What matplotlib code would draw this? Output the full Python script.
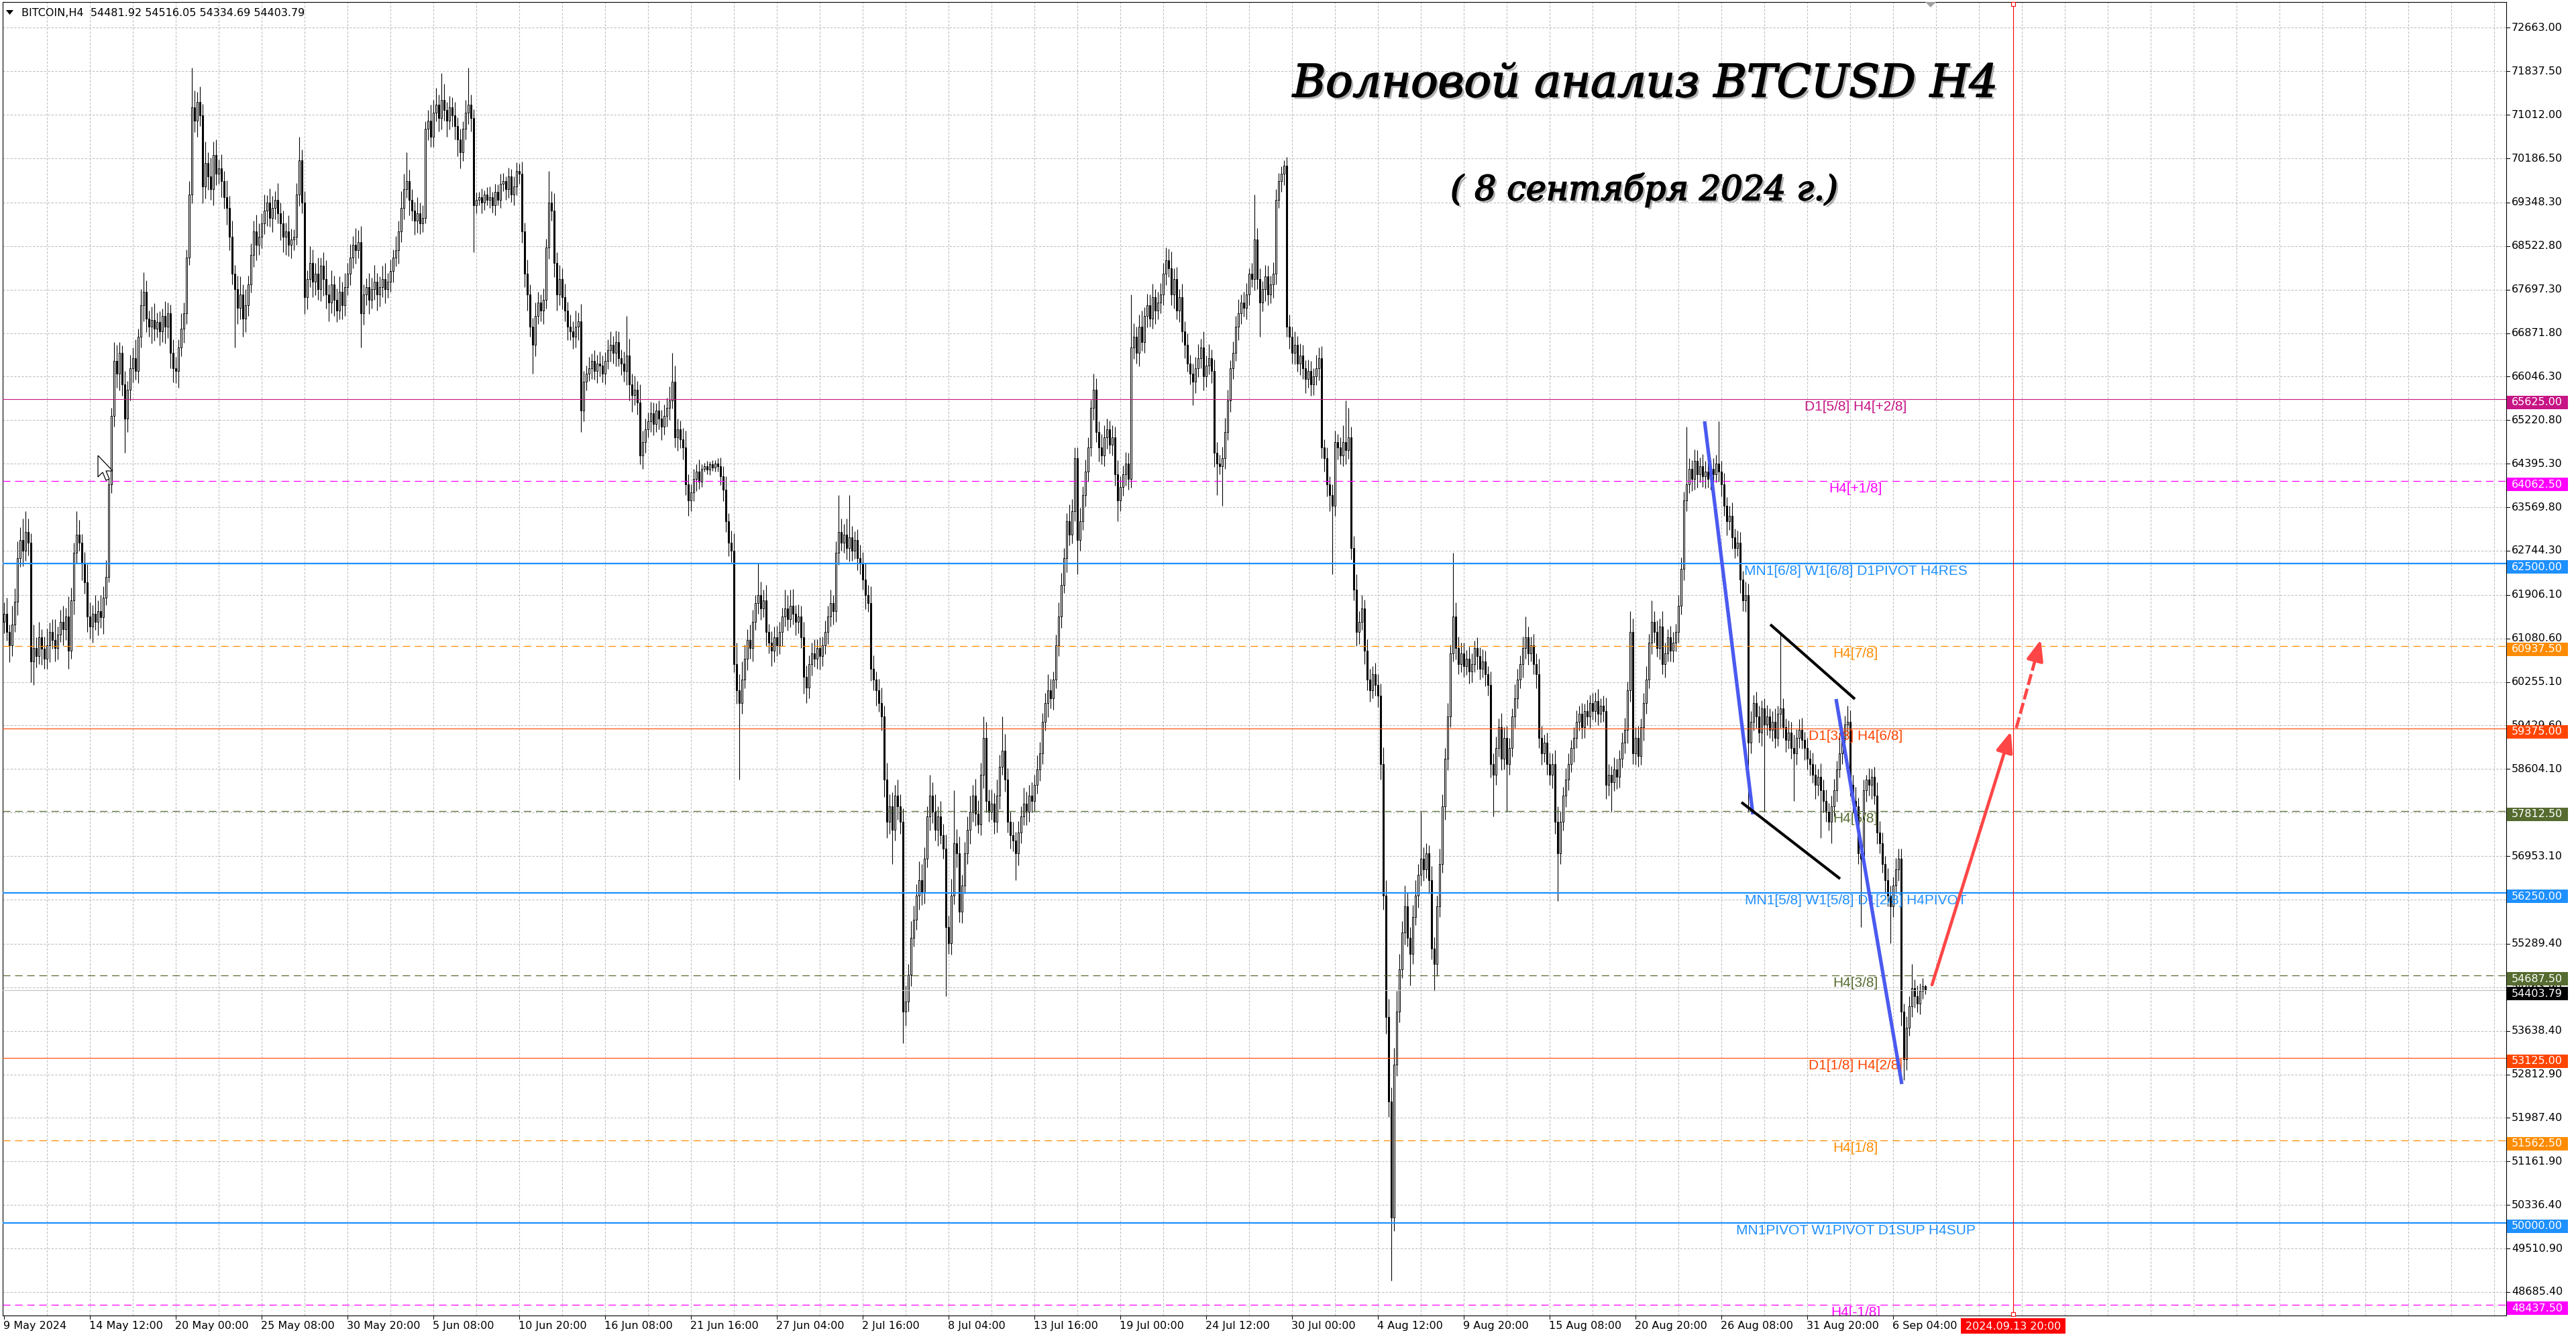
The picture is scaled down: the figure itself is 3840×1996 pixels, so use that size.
import matplotlib
matplotlib.use('Agg')
import numpy as np
import matplotlib.pyplot as plt
from matplotlib.transforms import blended_transform_factory, offset_copy
from matplotlib.patches import Rectangle, Polygon, FancyArrowPatch
from matplotlib.lines import Line2D
import matplotlib.patheffects as pe

plt.rcParams['lines.scale_dashes'] = False
plt.rcParams['font.family'] = ['DejaVu Sans']

# ---------------- data (prices in units of 10 USD) ----------------
first_open = 6140
closes = [
    6155,6120,6095,6135,6178,6260,6295,6275,6310,6290,6065,6090,6075,6110,6088,6070,
    6095,6120,6105,6090,6115,6140,6125,6150,6085,6180,6270,6305,6290,6250,6215,6150,
    6130,6155,6140,6160,6148,6185,6225,6400,6530,6635,6610,6650,6590,6525,6580,6620,
    6640,6615,6680,6740,6765,6715,6700,6712,6695,6708,6690,6720,6700,6725,6650,6620,
    6615,6660,6695,6725,6830,6950,7115,7090,7125,7100,6965,7010,6985,6960,7025,6990,
    7000,6975,6945,6925,6870,6800,6770,6735,6760,6715,6740,6780,6835,6880,6855,6870,
    6895,6920,6935,6905,6925,6940,6915,6895,6870,6880,6855,6865,6870,6950,7015,6935,
    6755,6790,6820,6785,6800,6770,6815,6790,6760,6745,6780,6750,6730,6765,6740,6775,
    6800,6830,6855,6845,6860,6725,6760,6775,6750,6770,6785,6760,6775,6790,6770,6785,
    6805,6830,6845,6880,6925,6960,6975,6940,6920,6900,6915,6895,6905,7075,7090,7060,
    7105,7120,7095,7130,7110,7090,7115,7100,7080,7055,7030,7075,7105,7120,7095,6930,
    6940,6945,6935,6950,6940,6945,6930,6955,6940,6970,6975,6960,6985,6950,6965,6995,
    6990,6880,6800,6760,6700,6665,6720,6745,6730,6750,6850,6935,6920,6820,6760,6790,
    6755,6730,6700,6690,6680,6700,6710,6540,6595,6610,6620,6635,6615,6630,6625,6610,
    6635,6655,6665,6650,6670,6640,6630,6615,6645,6590,6570,6580,6555,6455,6480,6505,
    6520,6535,6515,6540,6525,6510,6530,6545,6560,6595,6490,6505,6485,6470,6400,6370,
    6385,6410,6425,6405,6430,6435,6428,6438,6432,6440,6435,6415,6390,6330,6290,6275,
    6060,6010,5985,6030,6070,6105,6090,6140,6175,6190,6165,6180,6120,6100,6085,6110,
    6095,6120,6150,6165,6145,6170,6155,6140,6150,6110,6035,6015,6060,6080,6070,6090,
    6075,6095,6120,6150,6175,6160,6270,6310,6290,6305,6280,6300,6275,6295,6260,6250,
    6220,6190,6175,6050,6030,6010,5985,5960,5840,5760,5790,5745,5810,5790,5760,5400,
    5420,5470,5540,5575,5620,5650,5625,5690,5770,5810,5780,5745,5770,5735,5710,5560,
    5530,5620,5720,5700,5590,5640,5700,5745,5780,5810,5775,5755,5850,5920,5800,5780,
    5795,5760,5810,5865,5895,5840,5760,5735,5725,5700,5740,5770,5795,5780,5810,5800,
    5830,5860,5890,5950,5985,6010,5995,6030,6095,6150,6210,6260,6330,6305,6350,6450,
    6295,6330,6380,6425,6470,6545,6580,6500,6470,6455,6490,6505,6475,6490,6420,6370,
    6395,6420,6440,6410,6660,6680,6650,6700,6670,6720,6740,6715,6755,6730,6745,6760,
    6800,6825,6810,6760,6790,6730,6755,6690,6665,6630,6610,6595,6620,6640,6660,6605,
    6625,6640,6615,6460,6440,6435,6450,6500,6560,6620,6650,6700,6725,6745,6735,6760,
    6800,6790,6865,6790,6745,6770,6795,6760,6780,6800,6940,6975,6990,7005,6700,6680,
    6650,6665,6630,6645,6620,6600,6615,6590,6605,6620,6640,6470,6450,6400,6380,6360,
    6480,6470,6455,6480,6465,6490,6280,6200,6120,6140,6165,6085,6030,6010,6040,6020,
    6000,5870,5620,5390,5230,5010,5300,5400,5480,5550,5600,5540,5510,5580,5620,5660,
    5690,5670,5700,5650,5520,5490,5600,5680,5790,5880,5960,6080,6150,6090,6060,6080,
    6055,6070,6045,6060,6090,6075,6050,6065,6040,6020,5870,5850,5900,5940,5880,5920,
    5870,5900,5960,5995,6030,6060,6090,6110,6080,6095,6060,6040,5920,5890,5910,5870,
    5850,5870,5760,5700,5760,5810,5840,5870,5900,5920,5950,5965,5940,5970,5960,5985,
    5970,5990,5965,5980,5970,5830,5850,5835,5860,5845,5880,5910,5935,6010,6120,5890,
    5920,5885,5940,5985,6030,6100,6140,6120,6090,6130,6060,6080,6110,6085,6100,6120,
    6170,6240,6370,6400,6430,6410,6445,6420,6435,6415,6425,6410,6430,6420,6440,6425,
    6400,6360,6330,6340,6300,6280,6290,6220,6180,6190,5910,5950,5985,5960,5930,5975,
    5945,5960,5935,5950,5920,5965,5975,5940,5915,5930,5900,5890,5920,5935,5915,5900,
    5880,5870,5850,5830,5845,5820,5800,5780,5760,5790,5820,5860,5890,5920,5945,5950,
    5830,5800,5790,5700,5690,5820,5840,5830,5845,5810,5740,5720,5680,5650,5620,5600,
    5640,5670,5690,5400,5310,5370,5410,5445,5430,5415,5440,5448.192,5440.379,
]
wick_up = [
    22,30,15,35,25,32,24,40,40,26,18,45,20,30,16,24,
    32,18,25,40,15,22,30,16,38,25,20,45,28,16,22,34,
    26,16,35,20,30,22,32,10,16,35,30,20,14,25,16,26,
    20,35,16,30,38,22,15,26,32,18,21,14,28,20,16,25,
    22,15,30,20,16,25,75,32,20,30,22,40,20,35,25,30,
    16,26,20,32,22,30,16,26,35,20,30,16,22,20,32,25,
    20,30,14,26,22,16,32,20,25,16,30,20,14,22,45,20,
    22,16,32,26,20,30,16,25,35,20,26,16,22,30,20,26,
    20,26,16,32,22,30,20,16,26,22,32,16,20,25,30,16,
    22,16,26,20,32,30,55,22,20,16,30,20,25,14,20,30,
    25,32,20,50,30,16,22,20,26,16,20,14,25,70,20,16,
    14,10,16,8,14,20,10,16,14,20,16,10,16,14,20,16,
    14,22,16,26,20,16,25,20,16,22,16,60,22,32,20,26,
    20,26,16,22,20,30,16,32,20,16,22,14,20,16,22,20,
    16,20,26,16,22,20,16,22,75,32,20,26,16,35,22,20,
    16,22,20,14,20,16,22,20,26,55,30,20,16,22,32,20,
    16,20,14,22,8,6,10,6,8,6,10,16,20,26,16,22,
    32,40,30,35,26,20,30,22,16,60,26,20,30,16,22,20,
    22,20,16,35,25,30,32,16,22,20,30,22,16,20,26,16,
    20,16,22,20,26,16,22,70,26,20,30,80,22,16,20,26,
    22,30,20,32,26,16,22,30,20,32,22,26,20,30,22,26,
    30,20,32,26,22,35,30,22,20,40,26,32,20,30,22,26,
    22,32,100,26,32,20,22,26,30,20,32,26,22,40,30,22,
    26,20,30,22,65,32,22,20,26,16,22,20,30,22,20,26,
    20,26,22,16,20,30,22,16,20,26,22,20,16,32,22,20,
    20,26,16,22,20,16,30,22,20,26,22,20,16,22,20,26,
    20,16,22,20,100,26,20,22,30,16,22,20,26,16,20,22,
    20,25,22,32,20,22,16,26,20,22,16,20,22,26,16,30,
    20,26,16,22,20,16,22,26,20,16,22,20,26,16,20,22,
    10,20,85,22,20,16,22,20,16,22,20,16,14,10,16,22,
    20,26,16,22,20,16,22,20,16,26,20,22,16,20,16,20,
    22,16,20,32,80,55,20,22,30,20,26,16,22,20,16,22,
    20,22,32,30,35,26,32,40,30,22,40,26,20,22,30,20,
    90,22,20,16,26,22,20,30,22,20,26,16,120,26,22,20,
    20,16,22,20,14,20,16,22,20,16,26,20,22,16,26,20,
    22,20,16,26,20,16,22,40,20,16,22,20,30,22,16,20,
    22,20,26,30,20,16,22,20,16,20,22,16,20,14,22,16,
    20,16,22,14,20,26,20,16,22,20,16,20,22,16,40,26,
    20,22,16,20,26,16,40,20,22,16,30,20,16,22,20,16,
    20,22,16,110,20,16,22,20,16,22,20,26,16,20,16,80,
    20,22,16,20,26,16,22,20,16,26,22,20,16,22,20,16,
    20,22,16,20,26,16,145,20,16,22,20,26,16,20,22,16,
    20,16,22,20,16,26,20,22,16,20,22,16,40,20,16,30,
    22,20,26,16,22,20,10,22,16,20,26,22,20,16,22,20,
    16,22,20,20,16,22,20,45,16,20,14,16,3.413,
]
wick_dn = [
    22,16,32,20,14,26,16,30,20,25,40,45,22,16,30,20,
    20,32,16,26,22,14,30,20,35,16,26,20,16,32,22,30,
    22,30,16,26,20,32,14,10,16,20,26,32,22,65,26,20,
    26,16,22,20,30,26,20,32,22,16,26,20,32,22,30,26,
    22,32,16,26,20,14,16,22,30,20,32,22,26,20,30,22,
    20,30,22,32,26,20,110,30,22,35,26,20,16,22,30,20,
    22,20,30,16,26,22,20,32,30,35,22,26,20,16,22,20,
    32,22,16,30,26,20,22,32,26,35,20,30,22,16,26,20,
    16,22,20,26,16,65,22,20,26,16,20,30,22,20,26,16,
    20,22,16,26,20,22,16,30,20,26,22,20,16,10,22,20,
    20,16,26,22,20,30,16,22,26,32,30,16,20,22,26,90,
    16,10,20,14,10,16,14,20,10,16,14,20,16,14,20,16,
    20,22,26,30,20,55,22,16,20,26,16,22,20,26,30,20,
    22,20,26,16,22,20,26,40,20,16,14,20,16,22,20,16,
    20,16,22,20,26,16,22,20,26,30,32,20,22,16,26,20,
    16,20,22,16,20,26,16,20,22,16,20,26,16,22,20,30,
    20,16,22,14,10,6,8,10,6,8,10,16,22,20,26,22,
    16,26,145,20,16,22,20,26,16,20,22,16,26,20,30,22,
    20,16,26,20,22,16,20,26,22,20,32,30,20,22,16,20,
    26,20,16,22,20,26,20,22,16,20,22,26,20,16,22,20,
    20,26,16,22,20,30,16,26,32,30,22,65,20,26,22,60,
    26,20,22,16,20,26,22,20,16,26,22,20,30,16,20,130,
    20,22,16,26,20,22,16,20,26,20,22,16,20,26,22,20,
    16,22,20,26,16,22,20,26,20,50,22,20,16,26,20,22,
    20,16,22,20,16,26,20,22,16,20,22,16,26,20,16,20,
    65,20,16,22,20,16,22,20,26,16,20,22,16,20,22,40,
    20,16,22,20,16,22,20,26,16,20,22,16,20,26,16,20,
    20,22,16,20,26,16,22,20,26,16,20,45,22,16,20,26,
    20,16,22,26,60,16,75,20,16,22,20,16,26,20,16,22,
    20,16,22,20,65,16,22,20,16,26,20,16,20,22,20,22,
    20,22,16,22,20,26,16,22,20,16,22,20,26,22,30,130,
    20,22,16,20,26,16,22,20,26,22,16,26,20,22,16,20,
    22,30,26,32,30,120,26,22,20,16,22,16,60,20,16,22,
    20,22,16,26,20,50,22,20,16,26,22,20,16,22,20,16,
    20,16,22,20,16,26,20,16,22,20,26,80,20,16,22,20,
    90,20,16,22,20,16,26,20,22,16,20,26,20,22,16,20,
    20,26,22,90,20,16,22,20,16,26,20,16,22,20,16,22,
    16,20,22,16,20,26,20,55,16,22,20,16,20,26,22,20,
    22,20,16,26,20,16,22,20,16,22,20,26,16,20,22,16,
    20,16,22,20,16,22,20,26,16,20,22,16,20,22,16,20,
    22,20,26,16,22,20,16,26,20,22,130,20,16,22,20,26,
    165,20,16,22,20,16,26,20,22,16,20,90,22,20,16,22,
    20,22,16,26,20,90,22,20,16,40,20,22,16,20,16,22,
    20,22,16,20,130,16,22,20,26,16,22,20,16,26,20,70,
    20,16,22,26,40,20,16,20,22,16,20,16,6.91,
]

x_labels = ["9 May 2024", "14 May 12:00", "20 May 00:00", "25 May 08:00", "30 May 20:00",
            "5 Jun 08:00", "10 Jun 20:00", "16 Jun 08:00", "21 Jun 16:00", "27 Jun 04:00",
            "2 Jul 16:00", "8 Jul 04:00", "13 Jul 16:00", "19 Jul 00:00", "24 Jul 12:00",
            "30 Jul 00:00", "4 Aug 12:00", "9 Aug 20:00", "15 Aug 08:00", "20 Aug 20:00",
            "26 Aug 08:00", "31 Aug 20:00", "6 Sep 04:00"]
bars_per_label = 32
bars_per_grid = 16

price_ticks = [72663.00, 71837.50, 71012.00, 70186.50, 69348.30, 68522.80, 67697.30, 66871.80,
               66046.30, 65220.80, 64395.30, 63569.80, 62744.30, 61906.10, 61080.60, 60255.10,
               59429.60, 58604.10, 57778.60, 56953.10, 56127.60, 55289.40, 54463.90, 53638.40,
               52812.90, 51987.40, 51161.90, 50336.40, 49510.90, 48685.40]

level_prices = [65625.0, 64062.5, 62500.0, 60937.5, 59375.0, 57812.5,
                56250.0, 54687.5, 53125.0, 51562.5, 50000.0, 48437.5]
level_names = ['D1[5/8] H4[+2/8]', 'H4[+1/8]', 'MN1[6/8] W1[6/8] D1PIVOT H4RES', 'H4[7/8]',
               'D1[3/8] H4[6/8]', 'H4[5/8]', 'MN1[5/8] W1[5/8] D1[2/8] H4PIVOT', 'H4[3/8]',
               'D1[1/8] H4[2/8]', 'H4[1/8]', 'MN1PIVOT W1PIVOT D1SUP H4SUP', 'H4[-1/8]']
level_colors = ['#C71585', '#FF00FF', '#1E90FF', '#FF8C00', '#FF4500', '#556B2F',
                '#1E90FF', '#556B2F', '#FF4500', '#FF8C00', '#1E90FF', '#FF00FF']
level_dashed = [False, True, False, True, False, True, False, True, False, True, False, True]
level_widths = [0.8, 0.9, 1.6, 0.9, 0.8, 0.9, 1.6, 0.9, 0.8, 0.9, 1.6, 0.9]
level_label_bar = 690

bid_price = 54403.79
header_text = 'BITCOIN,H4  54481.92 54516.05 54334.69 54403.79'
title_text = 'Волновой анализ BTCUSD H4'
subtitle_text = '( 8 сентября 2024 г.)'
future_label = '2024.09.13 20:00'
future_bar = 748.75

# drawings: (bar index list, price list)
blue_wave1 = ([633.75, 651.75], [65200, 57744])
blue_wave2 = ([682.75, 707.25], [59932, 52629])
black_top = ([658.25, 689.75], [61345, 59932])
black_bottom = ([647.5, 684.25], [57973, 56523])
arrow_solid = ([718.5, 747.9], [54512, 59317])
arrow_dashed = ([749.9, 759.05], [59381, 61058])

# ---------------- figure ----------------
W, H = 3840, 1996
L, R, T, B = 4, 3736, 3, 1961
fig = plt.figure(figsize=(W / 100, H / 100), dpi=100, facecolor='white')
ax = fig.add_axes([L / W, 1 - B / H, (R - L) / W, (B - T) / H])
ax.set_facecolor('white')
YMIN, YMAX = 48239, 73152
ax.set_xlim(-0.5, 932.5)
ax.set_ylim(YMIN, YMAX)
ax.set_xticks([])
ax.set_yticks([])
for s in ax.spines.values():
    s.set_linewidth(0.8)
    s.set_color('black')
ppx = (YMAX - YMIN) / (B - T)

grid_kw = dict(color='#BDBDBD', lw=0.75, ls=(0, (2.4, 1.6)), zorder=0)
for k in range(bars_per_grid, 933, bars_per_grid):
    ax.axvline(k, **grid_kw)
for v in price_ticks:
    ax.axhline(v, **grid_kw)

# candles
c = np.array(closes, float) * 10
o = np.concatenate([[first_open * 10], c[:-1]])
hi = np.maximum(o, c) + np.array(wick_up, float) * 10
lo = np.minimum(o, c) - np.array(wick_dn, float) * 10
x = np.arange(len(c))
ax.vlines(x, lo, hi, color='black', lw=0.8, zorder=2)
bull = c >= o
ax.bar(x[bull], (c - o)[bull], bottom=o[bull], width=0.5, facecolor='white',
       edgecolor='black', linewidth=0.75, zorder=3)
ax.bar(x[~bull], (o - c)[~bull], bottom=c[~bull], width=0.5, facecolor='black',
       edgecolor='black', linewidth=0.75, zorder=3)

# level lines
lab_tr = offset_copy(ax.transData, fig=fig, x=0, y=-2, units='dots')
for p, name, col, dashed, lw in zip(level_prices, level_names, level_colors, level_dashed, level_widths):
    ax.axhline(p, color=col, lw=lw, ls=(0, (8, 5)) if dashed else '-', zorder=4)
    ax.text(level_label_bar, p, name, transform=lab_tr, ha='center', va='top', color=col,
            fontsize=15, family='Liberation Sans', zorder=6, clip_on=True)
ax.axhline(bid_price, color='#C0C0C0', lw=0.8, zorder=4)

# future vertical line
ax.axvline(future_bar, color='red', lw=0.8, zorder=4)
ax.plot([future_bar], [YMAX - 3 * ppx], marker='s', ms=4, mfc='white', mec='red', mew=0.8,
        clip_on=False, zorder=9)
ax.plot([future_bar], [YMIN + 2 * ppx], marker='s', ms=4, mfc='white', mec='red', mew=0.8,
        clip_on=False, zorder=9)

# wave drawings
blue = '#4A5AF0'
for xs, ys in (blue_wave1, blue_wave2):
    ax.plot(xs, ys, color=blue, lw=3.8, solid_capstyle='butt', zorder=7)
for xs, ys in (black_top, black_bottom):
    ax.plot(xs, ys, color='black', lw=3.0, solid_capstyle='butt', zorder=7)

red = '#FF4646'
ax.add_patch(FancyArrowPatch((arrow_solid[0][0], arrow_solid[1][0]),
                             (arrow_solid[0][1], arrow_solid[1][1]),
                             arrowstyle='-|>,head_length=0.75,head_width=0.3', mutation_scale=25,
                             color=red, lw=3.4, shrinkA=0, shrinkB=0, zorder=8))
xs, ys = arrow_dashed
fx = 0.82
xm, ym = xs[0] + (xs[1] - xs[0]) * fx, ys[0] + (ys[1] - ys[0]) * fx
ax.plot([xs[0], xm], [ys[0], ym], color=red, lw=3.4, ls=(0, (12, 4)), zorder=8)
ax.add_patch(FancyArrowPatch((xm, ym), (xs[1], ys[1]),
                             arrowstyle='-|>,head_length=0.75,head_width=0.3', mutation_scale=25,
                             color=red, lw=3.4, shrinkA=0, shrinkB=0, zorder=8))

# right price axis
trans_r = blended_transform_factory(fig.transFigure, ax.transData)
for v in price_ticks:
    ax.text(3744 / W, v, f'{v:.2f}', transform=trans_r, ha='left', va='center',
            fontsize=11.5, color='black', zorder=9, clip_on=False)
    ax.add_line(Line2D([R / W, (R + 5) / W], [v, v], transform=trans_r, color='black',
                       lw=0.75, clip_on=False))

box_h = 20 * ppx
box_off = 5 * ppx


def price_box(p, col, txt):
    ax.add_patch(Rectangle((3737 / W, p - box_off - box_h / 2), 91 / W, box_h, transform=trans_r,
                           facecolor=col, edgecolor='none', clip_on=False, zorder=10))
    ax.text(3744 / W, p - box_off, txt, transform=trans_r, ha='left', va='center',
            fontsize=11.5, color='white', zorder=11, clip_on=False)


price_box(bid_price, 'black', f'{bid_price:.2f}')
for p, col in zip(level_prices, level_colors):
    price_box(p, col, f'{p:.2f}')

# bottom time axis
trans_x = blended_transform_factory(ax.transData, fig.transFigure)
for i, lab in enumerate(x_labels):
    xb = i * bars_per_label
    ax.text(xb - 0.25, 1 - 1977 / H, lab, transform=trans_x, ha='left', va='center',
            fontsize=11.5, color='black', clip_on=False)
    ax.add_line(Line2D([xb, xb], [1 - B / H, 1 - (B + 5) / H], transform=trans_x,
                       color='black', lw=0.75, clip_on=False))

fig.patches.append(Rectangle((2923 / W, 1 - 1988 / H), 156 / W, 23 / H, transform=fig.transFigure,
                             facecolor='red', edgecolor='none', zorder=10))
fig.text(3001 / W, 1 - 1977 / H, future_label, ha='center', va='center', fontsize=11.5,
         color='white', zorder=11)

# header
fig.patches.append(Polygon([(9 / W, 1 - 15 / H), (20 / W, 1 - 15 / H), (14.5 / W, 1 - 22 / H)],
                           closed=True, transform=fig.transFigure, facecolor='black',
                           edgecolor='none', zorder=10))
fig.text(32 / W, 1 - 19 / H, header_text, ha='left', va='center', fontsize=11.5, color='black')

# chart shift marker
fig.patches.append(Polygon([(2870 / W, 1 - 3 / H), (2886 / W, 1 - 3 / H), (2878 / W, 1 - 11 / H)],
                           closed=True, transform=fig.transFigure, facecolor='#A0A0A0',
                           edgecolor='none', zorder=10))

# mouse cursor
cur = [(0, 0), (0, 32), (7, 25), (12, 37), (17, 35), (12, 23), (22, 23)]
fig.patches.append(Polygon([((146 + dx) / W, 1 - (679 + dy) / H) for dx, dy in cur], closed=True,
                           transform=fig.transFigure, facecolor='white', edgecolor='black',
                           lw=0.9, zorder=12))

# title & subtitle
effects = [pe.SimplePatchShadow(offset=(2.5, -2.5), shadow_rgbFace='black', alpha=0.3),
           pe.Stroke(linewidth=1.4, foreground='black'), pe.Normal()]
t1 = fig.text(2452 / W, 1 - 144 / H, title_text, ha='center', va='baseline', fontsize=50,
              family='DejaVu Serif', style='italic', color='black', path_effects=effects, zorder=12)
t2 = fig.text(2451 / W, 1 - 298 / H, subtitle_text, ha='center', va='baseline', fontsize=34,
              family='DejaVu Serif', style='italic', color='black', path_effects=effects, zorder=12)
fig.canvas.draw()
r = fig.canvas.get_renderer()
for t, target in ((t1, 1052), (t2, 578)):
    w = t.get_window_extent(renderer=r).width
    t.set_fontsize(t.get_fontsize() * target / w)

fig.savefig('out.png', dpi=100, facecolor='white')
